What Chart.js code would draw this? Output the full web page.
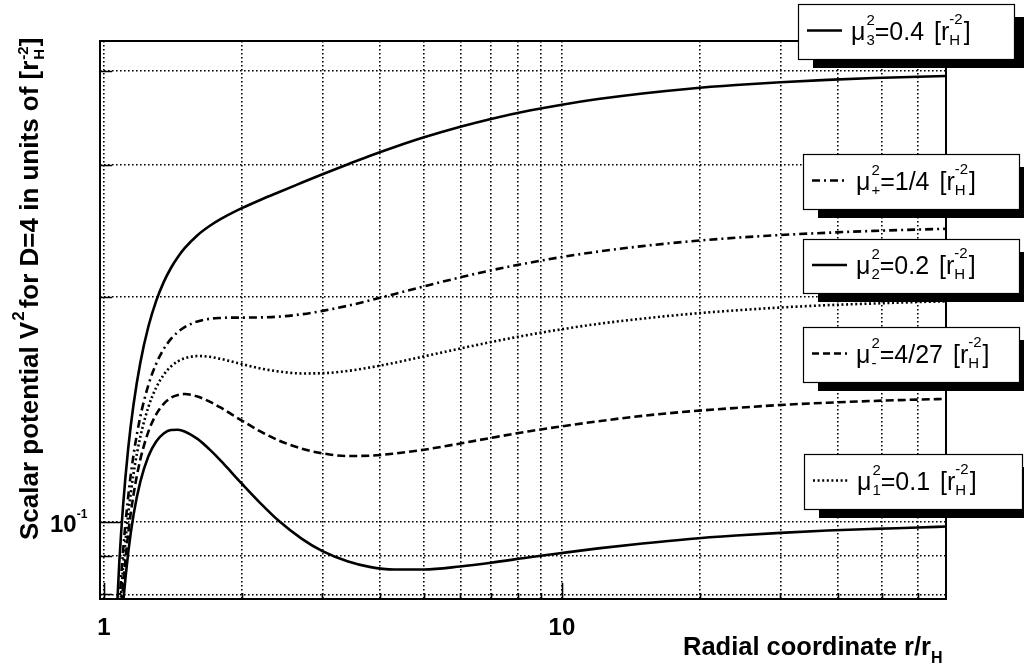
<!DOCTYPE html>
<html>
<head>
<meta charset="utf-8">
<script src="https://cdn.jsdelivr.net/npm/chart.js@4.4.0/dist/chart.umd.min.js"></script>
<style>
  html, body { margin: 0; padding: 0; background: #fff; }
  #wrap { width: 1024px; height: 669px; position: relative; }
</style>
</head>
<body>
<div id="wrap"><canvas id="chart"></canvas></div>
<script>
// radial coordinate r/r_H
const radius = [1.06, 1.08, 1.1, 1.13, 1.16, 1.2, 1.25, 1.3, 1.35, 1.4, 1.45, 1.5, 1.6, 1.7, 1.8, 1.9, 2.0,
  2.2, 2.4, 2.7, 3.0, 3.4, 3.8, 4.3, 5, 6, 7, 8.5, 10, 12, 15, 19, 24, 30, 38, 48, 60, 69];

// V^2 for each mass value
const vMu1 = [0.0532, 0.0662, 0.0774, 0.0912, 0.1022, 0.1131, 0.1224, 0.1281, 0.1313, 0.1327, 0.1328, 0.1321,
  0.1291, 0.1250, 0.1207, 0.1164, 0.1125, 0.1058, 0.1005, 0.0950, 0.0914, 0.0886, 0.0871, 0.0864, 0.0864,
  0.0872, 0.0882, 0.0897, 0.0909, 0.0922, 0.0936, 0.0949, 0.0959, 0.0967, 0.0974, 0.0979, 0.0983, 0.0986];
const vMuMinus = [0.0559, 0.0698, 0.0818, 0.0968, 0.1088, 0.1211, 0.1320, 0.1392, 0.1438, 0.1465, 0.1478, 0.1482,
  0.1471, 0.1448, 0.1421, 0.1392, 0.1366, 0.1320, 0.1286, 0.1253, 0.1235, 0.1225, 0.1226, 0.1234, 0.1249,
  0.1273, 0.1295, 0.1322, 0.1342, 0.1363, 0.1386, 0.1405, 0.1420, 0.1433, 0.1443, 0.1451, 0.1457, 0.1460];
const vMu2 = [0.0589, 0.0736, 0.0865, 0.1027, 0.1160, 0.1298, 0.1424, 0.1512, 0.1572, 0.1613, 0.1639, 0.1654,
  0.1666, 0.1662, 0.1651, 0.1638, 0.1625, 0.1603, 0.1589, 0.1579, 0.1580, 0.1591, 0.1608, 0.1631, 0.1664,
  0.1705, 0.1739, 0.1779, 0.1809, 0.1839, 0.1869, 0.1896, 0.1917, 0.1934, 0.1948, 0.1958, 0.1967, 0.1971];
const vMuPlus = [0.0617, 0.0773, 0.0910, 0.1085, 0.1229, 0.1381, 0.1524, 0.1627, 0.1702, 0.1756, 0.1794, 0.1821,
  0.1853, 0.1868, 0.1873, 0.1875, 0.1875, 0.1876, 0.1880, 0.1894, 0.1914, 0.1944, 0.1976, 0.2015, 0.2064,
  0.2122, 0.2168, 0.2220, 0.2259, 0.2297, 0.2336, 0.2370, 0.2397, 0.2417, 0.2434, 0.2448, 0.2458, 0.2464];
const vMu3 = [0.0702, 0.0884, 0.1047, 0.1258, 0.1435, 0.1631, 0.1824, 0.1974, 0.2091, 0.2184, 0.2259, 0.2321,
  0.2416, 0.2485, 0.2540, 0.2585, 0.2625, 0.2694, 0.2755, 0.2838, 0.2914, 0.3003, 0.3082, 0.3166, 0.3264,
  0.3372, 0.3454, 0.3544, 0.3609, 0.3672, 0.3736, 0.3791, 0.3834, 0.3867, 0.3895, 0.3917, 0.3933, 0.3942];

// axis ticks
const xGridTicks = [1, 2, 3, 4, 5, 6, 7, 8, 9, 10, 20, 30, 40, 50, 60];
const xMajorTicks = [1, 10];
const yGridTicks = [0.08, 0.09, 0.1, 0.2, 0.3, 0.4];
const yMajorTicks = [0.1];

// legend entries, top to bottom
const legendSubs = ['3', '+', '2', '-', '1'];
const legendValues = ['0.4', '1/4', '0.2', '4/27', '0.1'];
const legendDashes = [[], [8, 4, 2, 4], [], [7, 4], [2, 2.6]];

const legendBoxes = [
  { x: 798, y: 4, w: 216, h: 55 },
  { x: 803, y: 154, w: 216, h: 55 },
  { x: 803, y: 239, w: 216, h: 54 },
  { x: 803, y: 327, w: 216, h: 55 },
  { x: 804, y: 454, w: 218, h: 55 }
];

const FONT = '"Liberation Sans", Arial, Helvetica, sans-serif';

function toPoints(values) {
  return radius.map((r, i) => ({ x: r, y: values[i] }));
}

function curve(label, values, dash) {
  return {
    label: label,
    data: toPoints(values),
    borderColor: '#000',
    borderWidth: 2.6,
    borderDash: dash,
    pointRadius: 0,
    fill: false,
    cubicInterpolationMode: 'monotone',
    clip: 0
  };
}

// draws text with stacked super/subscripts, returns advance
function drawRich(ctx, x, y, parts) {
  let cx = x;
  parts.forEach(p => {
    ctx.font = p.font;
    if (p.sup !== undefined || p.sub !== undefined) {
      const w = Math.max(ctx.measureText(p.sup || '').width, ctx.measureText(p.sub || '').width);
      if (p.sup) ctx.fillText(p.sup, cx, y + p.dySup);
      if (p.sub) ctx.fillText(p.sub, cx, y + p.dySub);
      cx += w + (p.gap || 0);
    } else {
      ctx.fillText(p.t, cx, y + (p.dy || 0));
      cx += ctx.measureText(p.t).width + (p.gap || 0);
    }
  });
  return cx - x;
}

const rootStyle = {
  id: 'rootStyle',
  afterDatasetsDraw(chart) {
    const ctx = chart.ctx;
    const area = chart.chartArea;
    const xs = chart.scales.x;
    const ys = chart.scales.y;
    ctx.save();
    ctx.strokeStyle = '#000';
    ctx.fillStyle = '#000';

    // inner tick marks
    ctx.lineWidth = 1.6;
    ctx.beginPath();
    xGridTicks.forEach(v => {
      const px = Math.round(xs.getPixelForValue(v)) + 0.5;
      const len = xMajorTicks.includes(v) ? 16 : 6;
      ctx.moveTo(px, area.bottom);
      ctx.lineTo(px, area.bottom - len);
    });
    yGridTicks.forEach(v => {
      const py = Math.round(ys.getPixelForValue(v)) + 0.5;
      const len = yMajorTicks.includes(v) ? 23 : 12;
      ctx.moveTo(area.left, py);
      ctx.lineTo(area.left + len, py);
    });
    ctx.stroke();

    // frame
    ctx.lineWidth = 2;
    ctx.strokeRect(area.left, area.top, area.right - area.left, area.bottom - area.top);

    // tick labels
    ctx.textBaseline = 'alphabetic';
    ctx.textAlign = 'center';
    ctx.font = 'bold 24px ' + FONT;
    xMajorTicks.forEach(v => {
      ctx.fillText(String(v), xs.getPixelForValue(v), 635);
    });
    ctx.textAlign = 'left';
    yMajorTicks.forEach(v => {
      const py = ys.getPixelForValue(v);
      drawRich(ctx, 50, py + 10, [
        { t: '10', font: 'bold 24px ' + FONT },
        { t: '-1', font: 'bold 12px ' + FONT, dy: -14 }
      ]);
    });

    // x title
    drawRich(ctx, 683, 655, [
      { t: 'Radial coordinate r/r', font: 'bold 25.5px ' + FONT },
      { t: 'H', font: 'bold 16px ' + FONT, dy: 8 }
    ]);

    // y title
    ctx.save();
    ctx.translate(38, 540);
    ctx.rotate(-Math.PI / 2);
    drawRich(ctx, 0, 0, [
      { t: 'Scalar potential V', font: 'bold 26px ' + FONT, gap: 1 },
      { t: '2', font: 'bold 17px ' + FONT, dy: -14, gap: 3 },
      { t: 'for D=4 in units of [r', font: 'bold 26px ' + FONT, gap: 1 },
      { sup: '-2', sub: 'H', font: 'bold 15px ' + FONT, dySup: -10, dySub: 6 },
      { t: ']', font: 'bold 26px ' + FONT }
    ]);
    ctx.restore();
    ctx.restore();
  },
  afterDraw(chart) {
    const ctx = chart.ctx;
    ctx.save();
    legendBoxes.forEach((b, i) => {
      // shadow
      ctx.fillStyle = '#000';
      ctx.fillRect(b.x + 15, b.y + b.h, b.w - 5, 9);
      ctx.fillRect(b.x + b.w, b.y + 13, 10, b.h - 4);
      // box
      ctx.fillStyle = '#fff';
      ctx.fillRect(b.x, b.y, b.w, b.h);
      ctx.strokeStyle = '#000';
      ctx.lineWidth = 1.2;
      ctx.strokeRect(b.x + 0.5, b.y + 0.5, b.w, b.h);
      // line sample
      const ly = b.y + b.h / 2 - 1;
      ctx.lineWidth = 2.6;
      ctx.setLineDash(legendDashes[i]);
      ctx.beginPath();
      ctx.moveTo(b.x + 9, ly);
      ctx.lineTo(b.x + 44, ly);
      ctx.stroke();
      ctx.setLineDash([]);
      // label
      ctx.fillStyle = '#000';
      ctx.textAlign = 'left';
      ctx.textBaseline = 'alphabetic';
      drawRich(ctx, b.x + 53, b.y + b.h / 2 + 8, [
        { t: '\u03bc', font: '25px ' + FONT, gap: 1 },
        { sup: '2', sub: legendSubs[i], font: '15px ' + FONT, dySup: -15, dySub: 5 },
        { t: '=' + legendValues[i] + ' ', font: '25px ' + FONT, gap: 3 },
        { t: '[r', font: '25px ' + FONT },
        { sup: '-2', sub: 'H', font: '15px ' + FONT, dySup: -16, dySub: 5, gap: 1 },
        { t: ']', font: '25px ' + FONT }
      ]);
    });
    ctx.restore();
  }
};

const gridStyle = {
  color: '#000',
  lineWidth: 1.6,
  drawTicks: false,
  tickLength: 0
};

new Chart(document.getElementById('chart'), {
  type: 'line',
  data: {
    datasets: [
      curve('mu3^2=0.4', vMu3, []),
      curve('mu+^2=1/4', vMuPlus, [8, 4, 2, 4]),
      curve('mu2^2=0.2', vMu2, [2, 2.6]),
      curve('mu-^2=4/27', vMuMinus, [8, 4]),
      curve('mu1^2=0.1', vMu1, [])
    ]
  },
  options: {
    responsive: true,
    maintainAspectRatio: false,
    animation: false,
    devicePixelRatio: 1,
    events: [],
    layout: { padding: { top: 41, right: 78, left: 0, bottom: 0 } },
    plugins: {
      legend: { display: false },
      tooltip: { enabled: false },
      title: { display: false }
    },
    scales: {
      x: {
        type: 'logarithmic',
        min: 0.98,
        max: 69,
        grid: gridStyle,
        border: { display: false, dash: [1.6, 2.4] },
        ticks: { display: false },
        afterBuildTicks: (scale) => { scale.ticks = xGridTicks.map(v => ({ value: v })); },
        afterFit: (scale) => { scale.height = 70; }
      },
      y: {
        type: 'logarithmic',
        min: 0.0789,
        max: 0.439,
        grid: gridStyle,
        border: { display: false, dash: [1.6, 2.4] },
        ticks: { display: false },
        afterBuildTicks: (scale) => { scale.ticks = yGridTicks.map(v => ({ value: v })); },
        afterFit: (scale) => { scale.width = 100; }
      }
    }
  },
  plugins: [rootStyle]
});
</script>
</body>
</html>
